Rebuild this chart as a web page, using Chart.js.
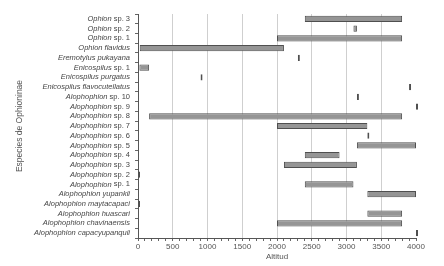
<!DOCTYPE html>
<html>
<head>
<meta charset="utf-8">
<script src="https://cdn.jsdelivr.net/npm/chart.js@4/dist/chart.umd.min.js"></script>
<style>
  html, body { margin: 0; padding: 0; background: #fff; }
  #wrap { width: 444px; height: 266px; }
</style>
</head>
<body>
<div id="wrap"><canvas id="myChart"></canvas></div>
<script>
// especies (de arriba a abajo)
const species = [
  'Ophion sp. 3', 'Ophion sp. 2', 'Ophion sp. 1', 'Ophion flavidus',
  'Eremotylus pukayana', 'Enicospilus sp. 1', 'Enicospilus purgatus',
  'Enicospilus flavocutellatus', 'Alophophion sp. 10', 'Alophophion sp. 9',
  'Alophophion sp. 8', 'Alophophion sp. 7', 'Alophophion sp. 6',
  'Alophophion sp. 5', 'Alophophion sp. 4', 'Alophophion sp. 3',
  'Alophophion sp. 2', 'Alophophion sp. 1', 'Alophophion yupankii',
  'Alophophion maytacapaci', 'Alophophion huascari',
  'Alophophion chavinaensis', 'Alophophion capacyupanquii'
];
// altitud minima / maxima (m)
const altMin = [2400, 3100, 2000, 25, 2300, 20, 900, 3900, 3150, 4000, 160, 2000, 3300, 3150, 2400, 2100, 0, 2400, 3300, 0, 3300, 2000, 4000];
const altMax = [3800, 3150, 3800, 2100, 2300, 160, 900, 3900, 3150, 4000, 3800, 3300, 3300, 4000, 2900, 3150, 0, 3100, 4000, 0, 3800, 3800, 4000];
// eje x
const xMin = 0, xMax = 4000, xStep = 100, xLabelStep = 500;

const ranges = species.map((s, i) => [altMin[i], altMax[i]]);

// etiquetas: genero en cursiva, "sp. N" normal
const speciesLabels = {
  id: 'speciesLabels',
  afterDraw(chart) {
    const sc = chart.scales.y;
    const ctx = chart.ctx;
    ctx.save();
    ctx.fillStyle = '#454545';
    ctx.textBaseline = 'middle';
    const right = sc.right - 8;
    species.forEach((name, i) => {
      const y = sc.getPixelForTick(i);
      const k = name.indexOf(' sp. ');
      let ital = name, norm = '';
      if (k >= 0) { ital = name.slice(0, k); norm = name.slice(k); }
      ctx.font = "7.5px 'Liberation Sans', Arial, sans-serif";
      const wn = ctx.measureText(norm).width;
      ctx.textAlign = 'right';
      if (norm) ctx.fillText(norm, right, y);
      ctx.font = "italic 7.5px 'Liberation Sans', Arial, sans-serif";
      ctx.fillText(ital, right - wn, y);
    });
    ctx.restore();
  }
};

const data = {
  labels: species,
  datasets: [{
    data: ranges,
    backgroundColor: '#959595',
    borderColor: '#4f4f4f',
    borderWidth: 1,
    borderSkipped: false,
    minBarLength: 2,
    barPercentage: 0.64,
    categoryPercentage: 1,
    clip: 5
  }]
};

const scales = {
  x: {
    type: 'linear',
    min: xMin,
    max: xMax,
    afterFit(s) { s.height = 28; },
    ticks: {
      stepSize: xStep,
      autoSkip: false,
      maxRotation: 0,
      padding: 1,
      color: '#555',
      font: { family: "'Liberation Sans', Arial, sans-serif", size: 8 },
      callback(v) { return v % xLabelStep === 0 ? String(v) : ''; }
    },
    grid: {
      color(c) {
        const v = c.tick ? c.tick.value : 0;
        return (v % xLabelStep === 0 && v > xMin && v < xMax) ? '#cfcfcf' : 'rgba(0,0,0,0)';
      },
      lineWidth: 1,
      tickLength: 3,
      tickColor: '#666'
    },
    border: { color: '#555', width: 1 },
    title: {
      display: true,
      text: 'Altitud',
      color: '#555',
      font: { family: "'Liberation Sans', Arial, sans-serif", size: 8 },
      padding: { top: 0, bottom: 4 }
    }
  },
  y: {
    type: 'category',
    afterFit(s) { s.width = 138; },
    ticks: {
      autoSkip: false,
      color: 'rgba(0,0,0,0)',
      font: { size: 7.5 }
    },
    grid: {
      offset: true,
      drawOnChartArea: false,
      tickLength: 3,
      tickColor: '#666'
    },
    border: { color: '#555', width: 1 },
    title: {
      display: true,
      text: 'Especies de Ophioninae',
      color: '#555',
      font: { family: "'Liberation Sans', Arial, sans-serif", size: 8.5 },
      padding: { top: 15, bottom: 0 }
    }
  }
};

const config = {
  type: 'bar',
  data,
  options: {
    indexAxis: 'y',
    animation: false,
    responsive: true,
    maintainAspectRatio: false,
    layout: { padding: { left: 0, right: 28, top: 14, bottom: 0 } },
    scales,
    plugins: {
      legend: { display: false },
      tooltip: { enabled: false }
    }
  },
  plugins: [speciesLabels]
};

const myChart = new Chart(document.getElementById('myChart'), config);
</script>
</body>
</html>
